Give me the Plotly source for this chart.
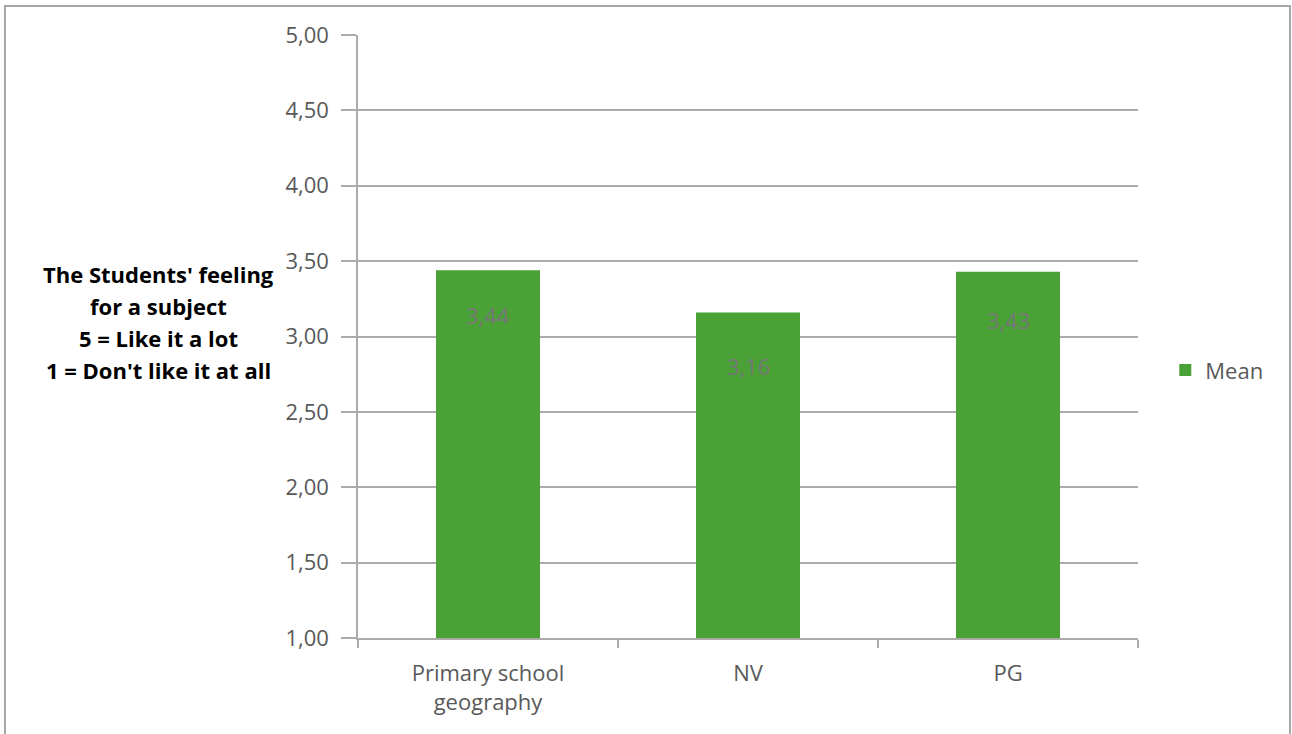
import plotly.graph_objects as go

# Mean feeling score per subject
categories = ["Primary school<br>geography", "NV", "PG"]
mean_values = [3.44, 3.16, 3.43]
value_labels = ["3,44", "3,16", "3,43"]
series_name = "Mean"

y_ticks = [1.0, 1.5, 2.0, 2.5, 3.0, 3.5, 4.0, 4.5, 5.0]

title_lines = [
    "The Students' feeling",
    "for a subject",
    "5 = Like it a lot",
    "1 = Don't like it at all",
]

BAR_GREEN = "#4aa136"
GRID = "#ababab"
TICK_TEXT = "#595959"
FONT = "Open Sans"

fig = go.Figure()
fig.add_trace(go.Bar(
    x=categories,
    y=mean_values,
    name=series_name,
    marker=dict(color=BAR_GREEN, line=dict(width=0)),
    width=0.4,
    showlegend=True,
))

# value labels placed inside the top part of each bar
label_drop = [-45, -54, -48]
for cat, val, txt, dy in zip(categories, mean_values, value_labels, label_drop):
    fig.add_annotation(
        x=cat, y=val, text=txt, showarrow=False,
        yshift=dy, font=dict(family=FONT, size=22, color="#767676"),
    )

# y-axis title written horizontally to the left of the axis, one line each
for i, line in enumerate(title_lines):
    fig.add_annotation(
        xref="paper", yref="paper", x=-0.2564, y=0.6036 - i * 0.0531,
        text=f"<b>{line}</b>",
        showarrow=False, align="center", xanchor="center", yanchor="middle",
        font=dict(family=FONT, size=22, color="#000000"),
    )

# outer chart border
fig.add_shape(
    type="rect", xref="paper", yref="paper",
    x0=-0.4526, x1=1.1949, y0=-0.2, y1=1.0481,
    line=dict(color="#a6a6a6", width=2), fillcolor="rgba(0,0,0,0)",
    layer="below",
)

fig.update_layout(
    width=1292, height=734,
    margin=dict(l=358, r=154, t=35, b=96),
    plot_bgcolor="white", paper_bgcolor="white",
    separators=",.",
    font=dict(family=FONT, size=22, color=TICK_TEXT),
    bargap=0.6,
    legend=dict(
        x=1.035, y=0.444, xanchor="left", yanchor="middle",
        font=dict(family=FONT, size=22, color=TICK_TEXT),
        itemsizing="constant", bgcolor="rgba(0,0,0,0)",
    ),
    xaxis=dict(
        showline=True, linecolor=GRID, linewidth=1.5,
        ticks="outside", tickson="boundaries", ticklen=8,
        tickcolor=GRID, tickwidth=1.5, ticklabelstandoff=15,
        showgrid=False, tickfont=dict(family=FONT, size=22, color=TICK_TEXT),
    ),
    yaxis=dict(
        range=[1.0, 5.0], tickvals=y_ticks, tickformat=".2f",
        showline=True, linecolor=GRID, linewidth=1.5,
        ticks="outside", ticklen=15, tickcolor=GRID, tickwidth=1.5,
        ticklabelstandoff=8,
        showgrid=True, gridcolor=GRID, gridwidth=1.5,
        zeroline=False, tickfont=dict(family=FONT, size=22, color=TICK_TEXT),
    ),
)

fig.write_html("out.html")
